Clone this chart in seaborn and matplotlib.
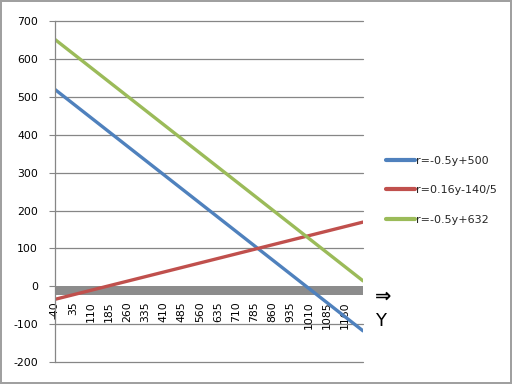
import matplotlib
matplotlib.use("Agg")
import matplotlib.pyplot as plt
import seaborn as sns
import pandas as pd

# data (values at each labelled category and the end)
x_vals = [-40, 35, 110, 185, 260, 335, 410, 485, 560, 635, 710, 785, 860, 935, 1010, 1085, 1160, 1235]
blue_vals = [520, 482.5, 445, 407.5, 370, 332.5, 295, 257.5, 220, 182.5, 145, 107.5, 70, 32.5, -5, -42.5, -80, -117.5]
red_vals = [-34.4, -22.4, -10.4, 1.6, 13.6, 25.6, 37.6, 49.6, 61.6, 73.6, 85.6, 97.6, 109.6, 121.6, 133.6, 145.6, 157.6, 169.6]
green_vals = [652, 614.5, 577, 539.5, 502, 464.5, 427, 389.5, 352, 314.5, 277, 239.5, 202, 164.5, 127, 89.5, 52, 14.5]
series_names = ["r=-0.5y+500", "r=0.16y-140/5", "r=-0.5y+632"]
x_tick_labels = ["-40", "35", "110", "185", "260", "335", "410", "485", "560", "635",
                 "710", "785", "860", "935", "1010", "1085", "1160"]
y_ticks = [-200, -100, 0, 100, 200, 300, 400, 500, 600, 700]

rows = []
for name, vals in zip(series_names, [blue_vals, red_vals, green_vals]):
    for xv, yv in zip(x_vals, vals):
        rows.append({"x": xv, "r": yv, "series": name})
df = pd.DataFrame(rows)

sns.set_style("white")
plt.rcParams["font.family"] = ["DejaVu Sans"]

fig = plt.figure(figsize=(5.12, 3.84), dpi=100)
fig.patch.set_edgecolor("#A0A0A0")
fig.patch.set_linewidth(1.5)
ax = fig.add_axes([0.107, 0.057, 0.602, 0.888])

palette = ["#4F81BD", "#C0504D", "#9BBB59"]
sns.lineplot(data=df, x="x", y="r", hue="series", palette=palette, linewidth=2.4, ax=ax, legend=True)

ax.set_xlim(-40, 1235)
ax.set_ylim(-200, 700)
ax.set_yticks(y_ticks)
ax.set_yticklabels([str(v) for v in y_ticks], fontsize=7.8)
for v in y_ticks:
    if v != 0:
        ax.axhline(v, color="#868686", linewidth=0.9, zorder=0, clip_on=False)
ax.axhspan(-23, 0, color="#8C8C8C", zorder=0.5, linewidth=0)

for s in ["top", "right"]:
    ax.spines[s].set_visible(False)
ax.spines["left"].set_color("#868686")
ax.spines["left"].set_linewidth(0.9)
ax.spines["bottom"].set_position(("data", 0))
ax.spines["bottom"].set_visible(False)
ax.tick_params(axis="y", left=True, length=4, color="#868686", pad=8, labelcolor="black")
ax.set_xticks(x_vals[:-1])
ax.set_xticklabels(x_tick_labels, rotation=90, fontsize=7.8)
ax.tick_params(axis="x", bottom=False, pad=7, labelcolor="black")
ax.set_xlabel("")
ax.set_ylabel("")

handles, labels = ax.get_legend_handles_labels()
if ax.get_legend():
    ax.get_legend().remove()
leg = fig.legend(handles, labels, loc="upper left", bbox_to_anchor=(0.735, 0.62),
                 frameon=False, fontsize=8, handlelength=2.6, handletextpad=0.1,
                 labelspacing=1.75)
for line in leg.get_lines():
    line.set_linewidth(3)

fig.text(0.732, 0.228, "⇒", fontsize=14, fontweight="bold", color="black", va="center")
fig.text(0.733, 0.163, "Y", fontsize=13, color="black", va="center")

fig.savefig("out.png", dpi=100)
